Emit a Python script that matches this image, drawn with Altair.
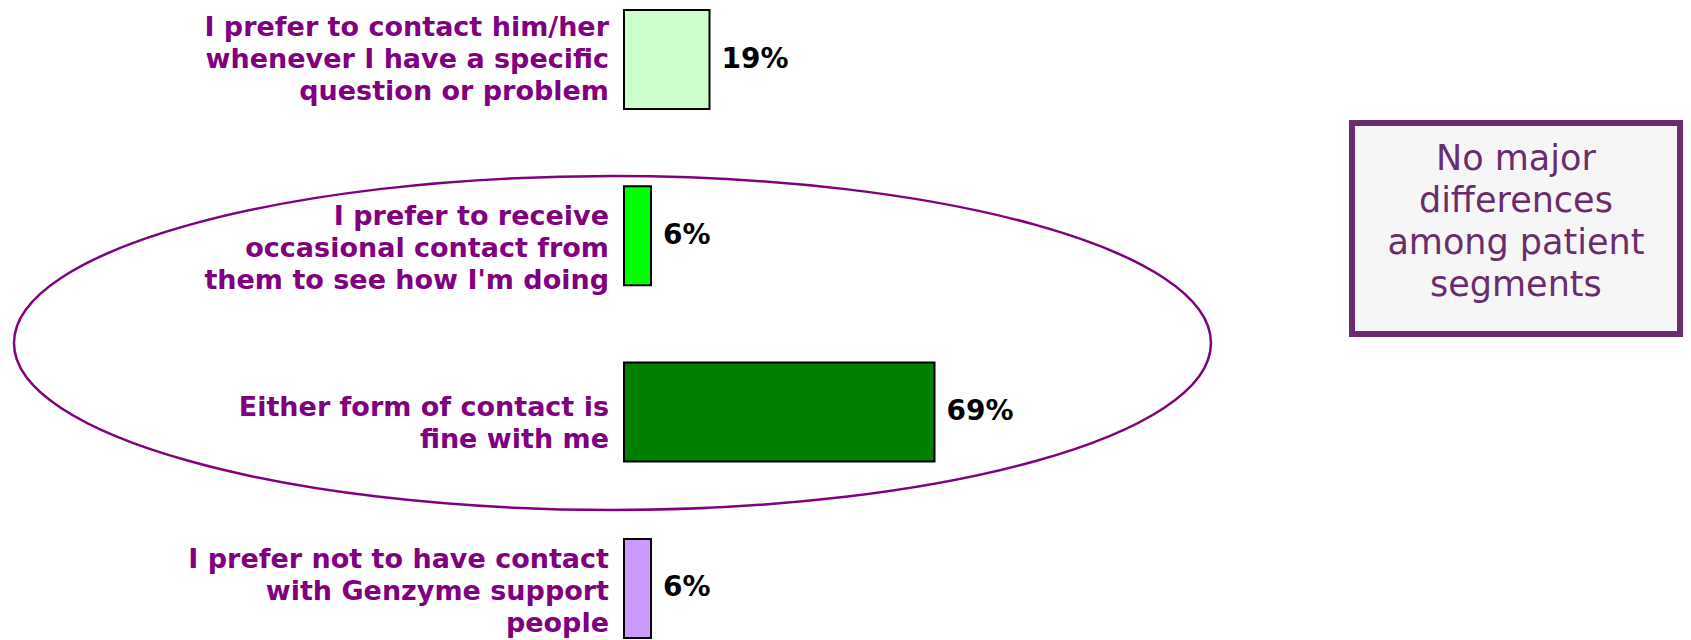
import altair as alt
import pandas as pd

# ---------------- data ----------------
categories = [
    "I prefer to contact him/her\nwhenever I have a specific\nquestion or problem",
    "I prefer to receive\noccasional contact from\nthem to see how I'm doing",
    "Either form of contact is\nfine with me",
    "I prefer not to have contact\nwith Genzyme support\npeople",
]
values = [19, 6, 69, 6]
value_labels = ["19%", "6%", "69%", "6%"]
note_text = "No major\ndifferences\namong patient\nsegments"

# ---------------- styles / layout ----------------
bar_colors = ["#CCFFCC", "#00FF00", "#008000", "#CC99FF"]
LABEL_COLOR = "#800080"
NOTE_COLOR = "#6B2C6E"
FONT = "DejaVu Sans"

W, H = 1675, 632
PX_PER_PCT = 4.5          # pixels per percentage point
X0 = 616                  # pixel of the 0% baseline
STEP = 176.3              # pixels between bar centres
Y0 = 51.5                 # pixel of the first bar centre
HALF = 49.5 / STEP        # half bar height in slot units

LABEL_SIZE, LABEL_LH = 27, 32
NOTE_SIZE, NOTE_LH = 35, 42

x_scale = alt.Scale(domain=[-X0 / PX_PER_PCT, (W - X0) / PX_PER_PCT], nice=False, zero=False)
y_scale = alt.Scale(domain=[-Y0 / STEP, (H - Y0) / STEP], nice=False, zero=False, reverse=True)

df = pd.DataFrame({
    "category": categories,
    "value": values,
    "label": value_labels,
    "slot": list(range(len(categories))),
})
df["zero"] = 0

base = alt.Chart(df)

bars = base.transform_calculate(
    top=f"datum.slot - {HALF}", bottom=f"datum.slot + {HALF}"
).mark_rect(stroke="black", strokeWidth=2).encode(
    x=alt.X("zero:Q", scale=x_scale, axis=None),
    x2="value:Q",
    y=alt.Y("top:Q", scale=y_scale, axis=None),
    y2="bottom:Q",
    color=alt.Color("category:N", scale=alt.Scale(domain=categories, range=bar_colors), legend=None),
)

value_text = base.mark_text(
    align="left", baseline="middle", dx=12, font=FONT, fontSize=28, fontWeight="bold", color="black"
).encode(
    x=alt.X("value:Q", scale=x_scale, axis=None),
    y=alt.Y("slot:Q", scale=y_scale, axis=None),
    text="label:N",
)

label_layers = []
for i, nudge in enumerate([0, 13, 12, 4]):
    n_lines = categories[i].count("\n") + 1
    dy = nudge - (n_lines - 1) * LABEL_LH / 2
    label_layers.append(
        base.transform_filter(f"datum.slot == {i}").mark_text(
            align="right", baseline="middle", dx=-15, dy=dy, font=FONT, fontSize=LABEL_SIZE,
            fontWeight="bold", color=LABEL_COLOR, lineBreak="\n", lineHeight=LABEL_LH,
        ).encode(
            x=alt.X("zero:Q", scale=x_scale, axis=None),
            y=alt.Y("slot:Q", scale=y_scale, axis=None),
            text="category:N",
        )
    )

# ellipse annotation (in data units)
ell_a, ell_b = 598.5, 167.0
ell_df = pd.DataFrame({"x": [-2.56], "slot": [1.608]})
ell_path = f"M -1 0 A 1 {ell_b/ell_a:.4f} 0 1 1 1 0 A 1 {ell_b/ell_a:.4f} 0 1 1 -1 0 Z"
ellipse = alt.Chart(ell_df).mark_point(
    shape=ell_path, size=(2 * ell_a) ** 2, filled=False, color=LABEL_COLOR,
    strokeWidth=2.5, opacity=1,
).encode(
    x=alt.X("x:Q", scale=x_scale, axis=None),
    y=alt.Y("slot:Q", scale=y_scale, axis=None),
)

# note box
note_lines = note_text.count("\n") + 1
box_df = pd.DataFrame({"x": [161.78], "x2": [234.67], "y": [0.3602], "y2": [1.557],
                       "tx": [198.2], "ty": [0.9217], "text": [note_text]})
box = alt.Chart(box_df).mark_rect(fill="#F6F6F6", stroke=NOTE_COLOR, strokeWidth=6).encode(
    x=alt.X("x:Q", scale=x_scale, axis=None), x2="x2:Q",
    y=alt.Y("y:Q", scale=y_scale, axis=None), y2="y2:Q",
)
box_text = alt.Chart(box_df).mark_text(
    align="center", baseline="middle", font=FONT, fontSize=NOTE_SIZE, color=NOTE_COLOR,
    lineBreak="\n", lineHeight=NOTE_LH, dy=-(note_lines - 1) * NOTE_LH / 2,
).encode(
    x=alt.X("tx:Q", scale=x_scale, axis=None),
    y=alt.Y("ty:Q", scale=y_scale, axis=None),
    text="text:N",
)

chart = alt.layer(box, box_text, ellipse, bars, value_text, *label_layers).properties(
    width=W, height=H, padding=0, autosize="none", background="white"
).configure_view(stroke=None)

chart.save("out.html", embed_options={"renderer": "svg", "actions": False})
